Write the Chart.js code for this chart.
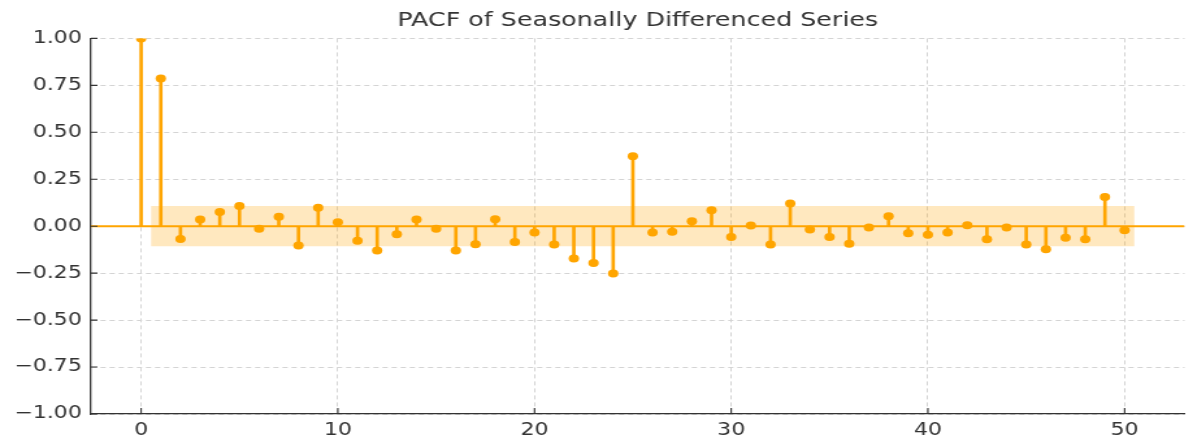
<!DOCTYPE html>
<html>
<head>
<meta charset="utf-8">
<script src="https://cdn.jsdelivr.net/npm/chart.js@4.4.1/dist/chart.umd.min.js"></script>
<style>
  html, body { margin: 0; padding: 0; background: #fff; overflow: hidden; }
  #wrap { width: 918px; height: 440px; transform: scaleX(1.2996); transform-origin: 0 0; }
</style>
</head>
<body>
<div id="wrap"><canvas id="pacf" width="918" height="440"></canvas></div>
<script>
// lags 0..50 and the partial autocorrelations
const lags = [0,1,2,3,4,5,6,7,8,9,10,11,12,13,14,15,16,17,18,19,20,21,22,23,24,25,
  26,27,28,29,30,31,32,33,34,35,36,37,38,39,40,41,42,43,44,45,46,47,48,49,50];
const pacfValues = [1.0, 0.786, -0.068, 0.036, 0.075, 0.108, -0.014, 0.050, -0.103, 0.098, 0.021,
  -0.078, -0.130, -0.043, 0.036, -0.014, -0.130, -0.096, 0.037, -0.084, -0.034,
  -0.098, -0.172, -0.196, -0.252, 0.373, -0.034, -0.030, 0.027, 0.085, -0.057,
  0.004, -0.097, 0.121, -0.018, -0.057, -0.094, -0.007, 0.053, -0.037, -0.046,
  -0.034, 0.005, -0.069, -0.007, -0.098, -0.123, -0.062, -0.069, 0.155, -0.021];
const bandLags = [0.5, 50.5];
const bandUpper = [0.107, 0.107];
const bandLower = [-0.107, -0.107];
const xTicks = [0, 10, 20, 30, 40, 50];
const yTicks = [-1, -0.75, -0.5, -0.25, 0, 0.25, 0.5, 0.75, 1];

const X_MIN = -2.55, X_MAX = 53.05;
const ORANGE = "#FFA500";
const FONT = "'DejaVu Sans', sans-serif";

// matplotlib style ticks pointing into the plot
const inwardTicks = {
  id: "inwardTicks",
  afterDraw(chart) {
    const {ctx, chartArea, scales} = chart;
    ctx.save();
    ctx.strokeStyle = "#333";
    ctx.lineWidth = 1.1;
    ctx.beginPath();
    xTicks.forEach(v => {
      const px = scales.x.getPixelForValue(v);
      ctx.moveTo(px, chartArea.bottom);
      ctx.lineTo(px, chartArea.bottom - 6);
    });
    yTicks.forEach(v => {
      const py = scales.y.getPixelForValue(v);
      ctx.moveTo(chartArea.left, py);
      ctx.lineTo(chartArea.left + 5, py);
    });
    ctx.stroke();
    ctx.restore();
  }
};

const ctx = document.getElementById("pacf").getContext("2d");

new Chart(ctx, {
  type: "bar",
  data: {
    datasets: [
      {
        type: "line",
        label: "markers",
        data: lags.map((l, i) => ({x: l, y: pacfValues[i]})),
        showLine: false,
        pointRadius: 4,
        pointBackgroundColor: ORANGE,
        pointBorderWidth: 0,
        clip: 0,
        order: 0
      },
      {
        type: "bar",
        label: "stems",
        data: lags.map((l, i) => ({x: l, y: [0, pacfValues[i]]})),
        backgroundColor: ORANGE,
        barThickness: 2,
        borderWidth: 0,
        order: 1
      },
      {
        type: "line",
        label: "zero",
        data: [{x: X_MIN, y: 0}, {x: X_MAX, y: 0}],
        borderColor: ORANGE,
        borderWidth: 2,
        pointRadius: 0,
        order: 2
      },
      {
        type: "line",
        label: "upper",
        data: bandLags.map((l, i) => ({x: l, y: bandUpper[i]})),
        borderWidth: 0,
        pointRadius: 0,
        fill: "+1",
        backgroundColor: "rgba(255,165,0,0.25)",
        order: 3
      },
      {
        type: "line",
        label: "lower",
        data: bandLags.map((l, i) => ({x: l, y: bandLower[i]})),
        borderWidth: 0,
        pointRadius: 0,
        fill: false,
        order: 4
      }
    ]
  },
  options: {
    responsive: false,
    animation: false,
    layout: { padding: { left: 0, right: 6.5, top: 0, bottom: 0 } },
    plugins: {
      legend: { display: false },
      tooltip: { enabled: false },
      title: {
        display: true,
        fullSize: false,
        text: "PACF of Seasonally Differenced Series",
        color: "#333",
        font: { family: FONT, size: 19.5, weight: "normal" },
        padding: { top: 9, bottom: 6 }
      }
    },
    scales: {
      x: {
        type: "linear",
        min: X_MIN,
        max: X_MAX,
        offset: false,
        afterBuildTicks: scale => { scale.ticks = xTicks.map(v => ({value: v})); },
        afterFit: scale => { scale.height = 26; },
        ticks: {
          color: "#333",
          font: { family: FONT, size: 17 },
          padding: 6,
          maxRotation: 0,
          callback: v => String(v)
        },
        grid: { color: "#d4d4d4", drawTicks: false, lineWidth: 1, offset: false },
        border: { display: true, color: "#333", width: 1.3, dash: [4, 3] }
      },
      y: {
        min: -1,
        max: 1,
        afterBuildTicks: scale => { scale.ticks = yTicks.map(v => ({value: v})); },
        afterFit: scale => { scale.width = 70; },
        ticks: {
          color: "#333",
          font: { family: FONT, size: 17 },
          padding: 7,
          callback: v => (v < 0 ? "\u2212" : "") + Math.abs(v).toFixed(2)
        },
        grid: { color: "#d4d4d4", drawTicks: false, lineWidth: 1 },
        border: { display: true, color: "#333", width: 1.3, dash: [4, 3] }
      }
    }
  },
  plugins: [inwardTicks]
});
</script>
</body>
</html>
